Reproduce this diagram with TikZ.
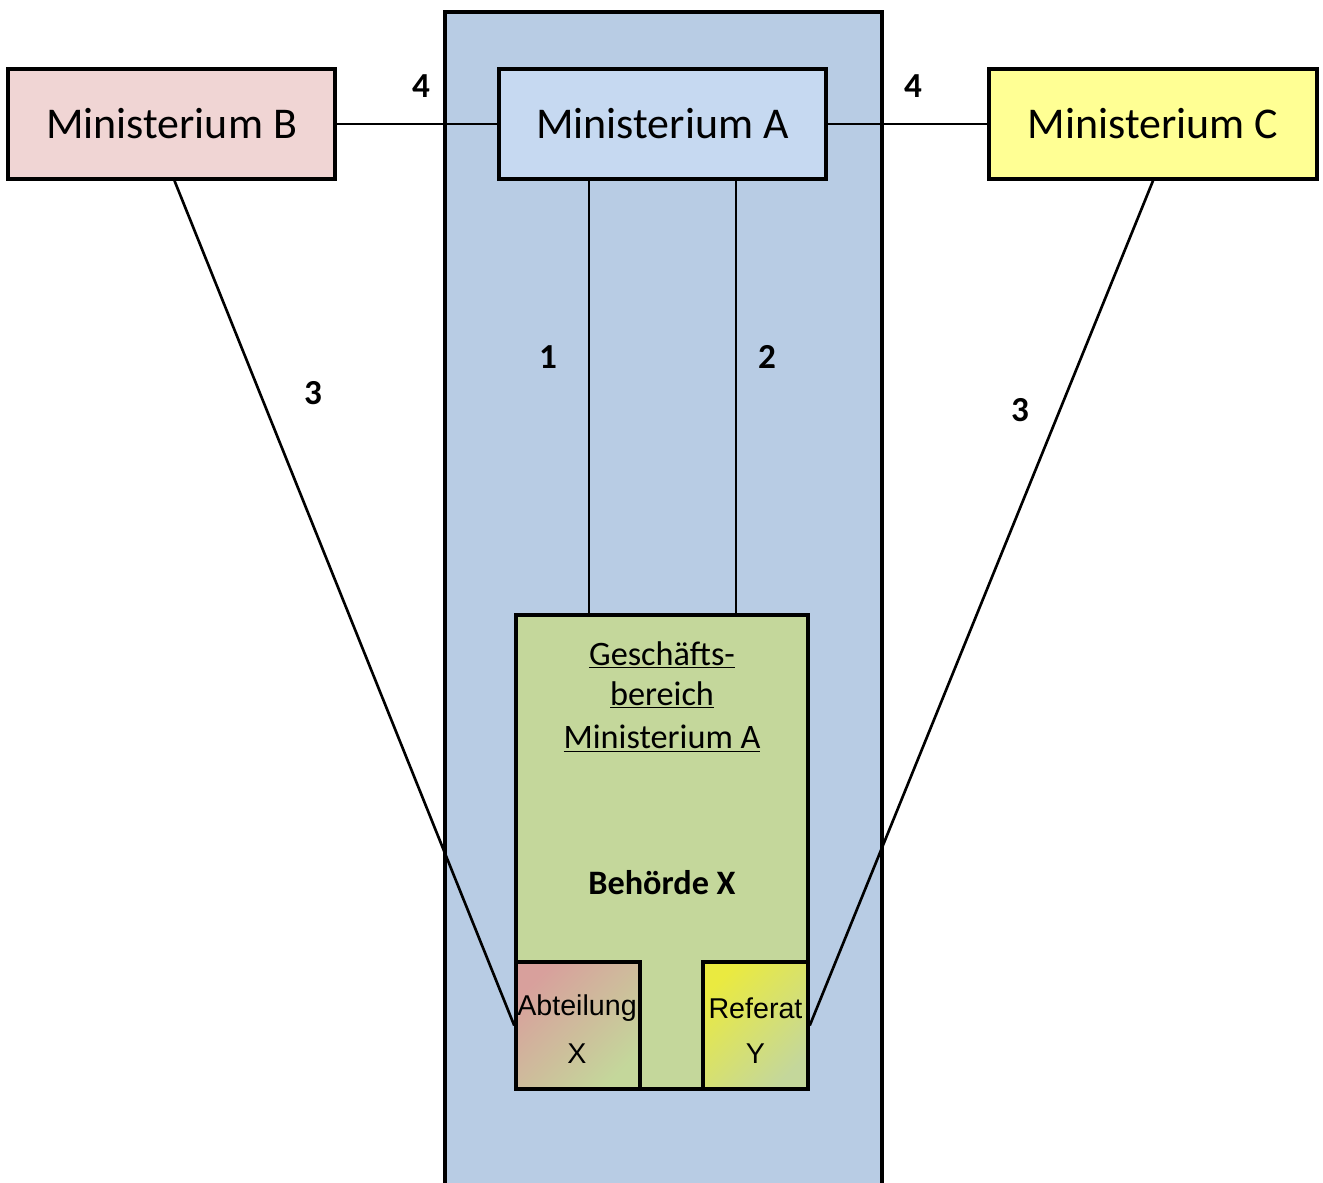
\documentclass[tikz,border=0pt]{standalone}
\usepackage{fontspec}
\setmainfont{Carlito}
\newfontfamily\arialf{Liberation Sans}
\begin{document}
\begin{tikzpicture}[x=0.02cm,y=-0.02cm,
  box/.style={draw=black,line width=2pt,inner sep=0pt,font=\fontsize{25}{30}\selectfont},
  conn/.style={draw=black,line width=1.5pt},
  num/.style={inner sep=0pt,font=\fontsize{20}{24}\selectfont\bfseries},
  gtext/.style={inner sep=0pt,font=\fontsize{19.5}{23}\selectfont},
  stext/.style={inner sep=0pt,font=\fontsize{16.3}{19}\selectfont\arialf}]
\definecolor{panelc}{HTML}{B8CCE4}
\definecolor{ac}{HTML}{C6D9F1}
\definecolor{bc}{HTML}{F0D5D4}
\definecolor{cc}{HTML}{FFFF94}
\definecolor{gc}{HTML}{C4D79B}
\definecolor{pinkc}{HTML}{D8A09C}
\definecolor{yelc}{HTML}{EAEA40}
\useasboundingbox[fill=white] (0,0) rectangle (1323,1183);
% panel
\fill[panelc] (445,12) rectangle (882,1183);
\draw[line width=2pt] (445,1183) -- (445,12) -- (882,12) -- (882,1183);
% top boxes
\node[box,fill=ac,minimum width=327*0.02cm,minimum height=110*0.02cm] (A) at (662.5,124) {Ministerium A};
\node[box,fill=bc,minimum width=327*0.02cm,minimum height=110*0.02cm] (B) at (171.5,124) {Ministerium B};
\node[box,fill=cc,minimum width=328*0.02cm,minimum height=110*0.02cm] (C) at (1153,124) {Ministerium C};
% Behoerde
\node[box,fill=gc,minimum width=292*0.02cm,minimum height=474*0.02cm] (Beh) at (662,852) {};
\shade[top color=pinkc,middle color=gc!85!pinkc,bottom color=gc,shading angle=45] (516,962) rectangle (640,1089);
\node[box,minimum width=124*0.02cm,minimum height=127*0.02cm] (Abt) at (578,1025.5) {};
\shade[top color=yelc,middle color=gc!85!yelc,bottom color=gc,shading angle=45] (703,962) rectangle (808,1089);
\node[box,minimum width=105*0.02cm,minimum height=127*0.02cm] (Ref) at (755.5,1025.5) {};
\node[box,minimum width=292*0.02cm,minimum height=474*0.02cm] (Behframe) at (662,852) {};
% texts in Behoerde
\node[gtext] (g1) at (662,655) {\underline{Geschäfts-}};
\node[gtext] (g2) at (662,695) {\underline{bereich}};
\node[gtext] (g3) at (662,739) {\underline{Ministerium A}};
\node[gtext,font=\fontsize{19.5}{23}\selectfont\bfseries] (bx) at (662,883) {Behörde X};
\node[stext] (t1) at (577,1008) {Abteilung};
\node[stext] (t2) at (577,1054) {X};
\node[stext] (t3) at (755.5,1008) {Referat};
\node[stext] (t4) at (755.5,1054) {Y};
% connectors
\coordinate (l1) at (589,0);
\coordinate (l2) at (736,0);
\draw[conn] (B.east) -- (A.west);
\draw[conn] (A.east) -- (C.west);
\draw[conn] (A.south -| l1) -- (Beh.north -| l1);
\draw[conn] (A.south -| l2) -- (Beh.north -| l2);
\draw[conn] ([xshift=3*0.02cm]B.south) -- (Abt.west);
\draw[conn] (C.south) -- (Ref.east);
% labels
\node[num] (n4a) at (421,86) {4};
\node[num] (n4b) at (913,86) {4};
\node[num] (n1) at (548,357) {1};
\node[num] (n2) at (767,357) {2};
\node[num] (n3a) at (313,393) {3};
\node[num] (n3b) at (1020,410) {3};
\end{tikzpicture}
\end{document}
